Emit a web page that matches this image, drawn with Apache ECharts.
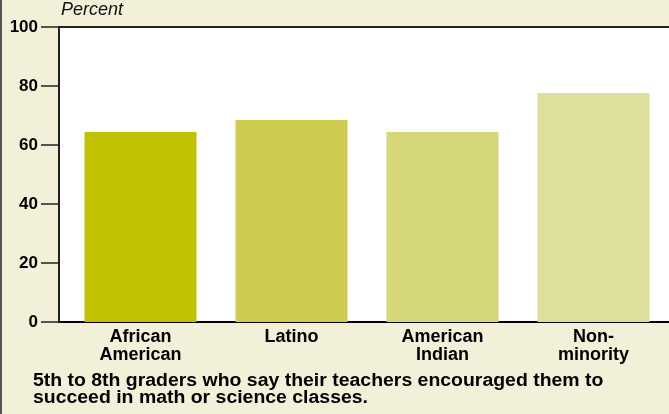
<!DOCTYPE html>
<html><head><meta charset="utf-8">
<script src="https://cdn.jsdelivr.net/npm/echarts@6/dist/echarts.min.js"></script>
<style>html,body{margin:0;padding:0;background:#f2f0d9;}#c{width:669px;height:414px;}</style>
</head><body><div id="c"></div>
<script>
const categories = ['African\nAmerican', 'Latino', 'American\nIndian', 'Non-\nminority'];
const values = [64.4, 68.5, 64.4, 77.6];
const barColors = ['#c0c100', '#cccc50', '#d6d67a', '#dfdf9c'];
const yTicks = [0, 20, 40, 60, 80, 100];
const chart = echarts.init(document.getElementById('c'));
chart.setOption({
  backgroundColor: '#f2f0d9',
  animation: false,
  grid: {left: 65, right: 0, top: 27, bottom: 92, show: true, backgroundColor: '#ffffff', borderWidth: 0},
  xAxis: {
    type: 'category', data: categories,
    axisLine: {lineStyle: {color: '#000', width: 2}},
    axisTick: {show: false},
    axisLabel: {color: '#000', fontFamily: 'Liberation Sans, Arial', fontWeight: 'bold', fontSize: 18, lineHeight: 18, margin: 6}
  },
  yAxis: {
    type: 'value', min: 0, max: 100, interval: 20, offset: 6,
    axisLine: {show: true, lineStyle: {color: '#222', width: 2}},
    axisTick: {show: true, length: 18, lineStyle: {color: '#222', width: 1.5}},
    splitLine: {show: false},
    axisLabel: {color: '#000', fontFamily: 'Liberation Sans, Arial', fontWeight: 'bold', fontSize: 17, margin: 21,
      formatter: v => yTicks.includes(v) ? String(v) : ''}
  },
  graphic: [
    {type: 'rect', left: 0, top: 0, shape: {width: 2, height: 414}, style: {fill: '#555'}},
    {type: 'rect', x: 59, y: 27, z: -10, shape: {width: 7, height: 295}, style: {fill: '#ffffff'}},
    {type: 'rect', x: 58, y: 321, shape: {width: 9, height: 2}, style: {fill: '#000'}},
    {type: 'rect', left: 59, top: 26, shape: {width: 610, height: 2}, style: {fill: '#222'}},
    {type: 'text', left: 61, top: 1, style: {text: 'Percent', font: 'italic 18px "Liberation Sans", Arial', fill: '#111'}},
    {type: 'text', left: 33, top: 372, scaleX: 1.08, style: {text: '5th to 8th graders who say their teachers encouraged them to\nsucceed in math or science classes.', font: 'bold 18px "Liberation Sans", Arial', lineHeight: 17, fill: '#000'}}
  ],
  series: [{
    type: 'bar', barWidth: 112,
    data: values.map((v, i) => ({value: v, itemStyle: {color: barColors[i]}}))
  }]
});
</script></body></html>
